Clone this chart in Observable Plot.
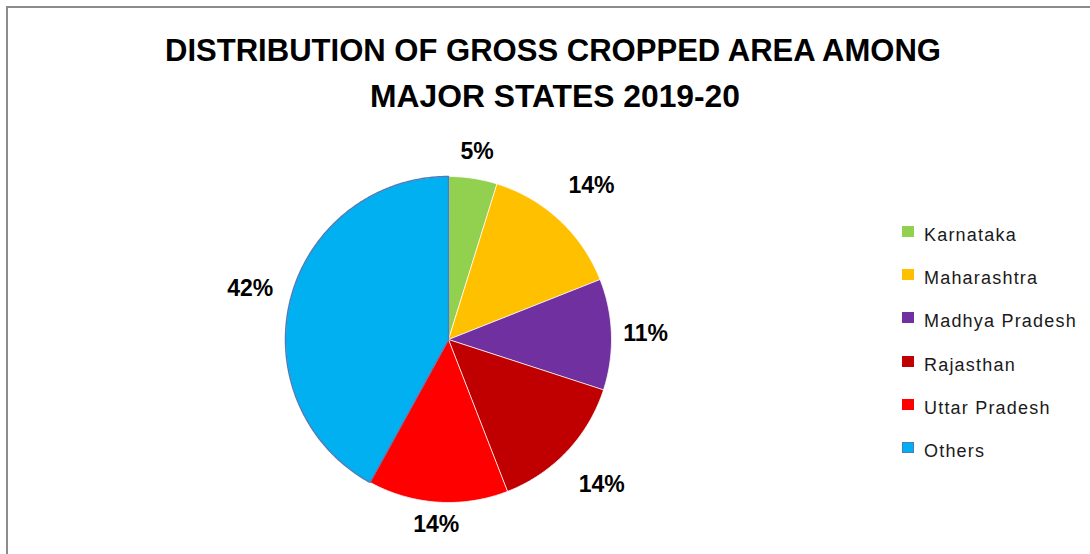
<!DOCTYPE html>
<html>
<head>
<meta charset="utf-8">
<script src="https://cdn.jsdelivr.net/npm/d3@7"></script>
<script src="https://cdn.jsdelivr.net/npm/@observablehq/plot@0.6"></script>
<style>
  body { margin: 0; background: #fff; }
  #wrap { position: relative; width: 1090px; height: 554px; overflow: hidden; background: #fff; font-family: "Liberation Sans", Arial, sans-serif; }
  #frame { position: absolute; left: 6px; top: 6px; width: 1100px; height: 600px; border-left: 2px solid #8c8c8c; border-top: 2px solid #8c8c8c; box-sizing: border-box; }
  #chart { position: absolute; left: 0; top: 0; }
  #title { position: absolute; left: 0; top: 0; }
  #legend { position: absolute; left: 902px; top: 0; }
  .item { position: absolute; left: 0; white-space: nowrap; font-size: 18px; letter-spacing: 1.2px; color: #1a1a1a; }
  .sw { position: absolute; left: 0; width: 12px; height: 11px; box-sizing: border-box; }
  .lab { position: absolute; left: 22px; line-height: 1; }
</style>
</head>
<body>
<div id="wrap">
  <div id="frame"></div>
  <div id="chart"></div>
  <svg id="title" width="1090" height="130">
    <text x="553" y="61" text-anchor="middle" font-family="Liberation Sans, Arial, sans-serif" font-weight="bold" font-size="32" textLength="776" lengthAdjust="spacingAndGlyphs" fill="#000">DISTRIBUTION OF GROSS CROPPED AREA AMONG</text>
    <text x="555" y="107" text-anchor="middle" font-family="Liberation Sans, Arial, sans-serif" font-weight="bold" font-size="32" textLength="370" lengthAdjust="spacingAndGlyphs" fill="#000">MAJOR STATES 2019-20</text>
  </svg>
  <div id="legend"></div>
</div>
<script>
// ---- data ----
const names = ["Karnataka", "Maharashtra", "Madhya Pradesh", "Rajasthan", "Uttar Pradesh", "Others"];
const shares = [4.8, 14.2, 11.0, 14.1, 13.9, 42.0];
const labels = ["5%", "14%", "11%", "14%", "14%", "42%"];
const colors = ["#92D050", "#FFC000", "#7030A0", "#C00000", "#FF0000", "#00B0F0"];

// ---- layout ----
const W = 1090, H = 554;
const cx = 448, cy = 339, R = 163; // pie centre and radius in pixels

const data = names.map((n, i) => ({name: n, value: shares[i], label: labels[i]}));
const arcs = d3.pie().sort(null).value(d => d.value)(data);

// slice polygons in radius units (angle 0 = 12 o'clock, clockwise)
const pts = [];
arcs.forEach(a => {
  pts.push({name: a.data.name, x: 0, y: 0});
  const n = Math.max(2, Math.ceil((a.endAngle - a.startAngle) / 0.01));
  for (let k = 0; k <= n; k++) {
    const t = a.startAngle + (a.endAngle - a.startAngle) * k / n;
    pts.push({name: a.data.name, x: Math.sin(t), y: Math.cos(t)});
  }
});

// label positions: outside the slice along its mid angle
const halfW = 23 / R, halfH = 9 / R, pad = 10 / R, diag = 15 / R;
const labs = arcs.map(a => {
  const m = (a.startAngle + a.endAngle) / 2;
  const s = Math.sin(m), c = Math.cos(m);
  const d = 1 + pad + halfW * Math.abs(s) + halfH * Math.abs(c) + diag * Math.abs(Math.sin(2 * m));
  return {label: a.data.label, x: s * d, y: c * d};
});

const chart = Plot.plot({
  width: W, height: H, margin: 0,
  x: {domain: [-cx / R, (W - cx) / R], axis: null},
  y: {domain: [-(H - cy) / R, cy / R], axis: null},
  color: {domain: names, range: colors},
  style: {background: "transparent", fontFamily: "Liberation Sans, Arial, sans-serif"},
  marks: [
    Plot.line(pts, {x: "x", y: "y", z: "name", fill: "name", stroke: "#ffffff", strokeWidth: 0.8, curve: "linear-closed"}),
    Plot.line(pts.filter(d => d.name === "Others"), {x: "x", y: "y", z: "name", fill: "none", stroke: "#4a7ebb", strokeWidth: 1.5, curve: "linear-closed"}),
    Plot.text(labs, {x: "x", y: "y", text: "label", fontSize: 23, fontWeight: "bold", fill: "#000", textAnchor: "middle", lineAnchor: "middle"})
  ]
});
document.getElementById("chart").appendChild(chart);

// ---- legend ----
const legend = document.getElementById("legend");
const base0 = 241, step = 43.2;
names.forEach((n, i) => {
  const baseline = base0 + i * step;
  const item = document.createElement("div");
  item.className = "item";
  item.style.top = "0px";
  const sw = document.createElement("div");
  sw.className = "sw";
  sw.style.top = (baseline - 15) + "px";
  sw.style.background = colors[i];
  if (n === "Others") sw.style.border = "1.5px solid #4a7ebb";
  const lab = document.createElement("div");
  lab.className = "lab";
  lab.textContent = n;
  lab.style.top = (baseline - 15) + "px";
  item.appendChild(sw);
  item.appendChild(lab);
  legend.appendChild(item);
});
</script>
</body>
</html>
